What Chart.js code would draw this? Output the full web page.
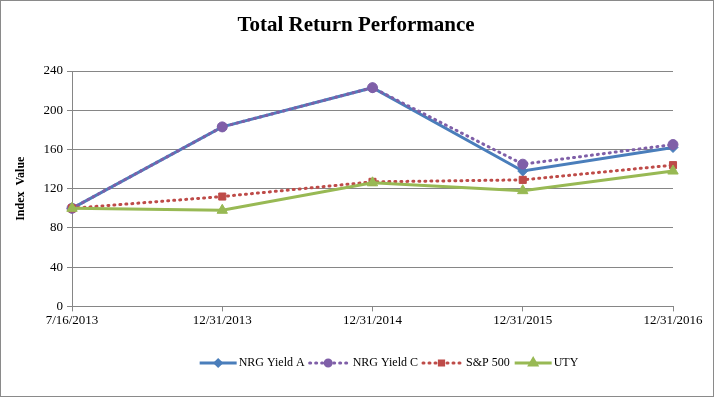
<!DOCTYPE html>
<html>
<head>
<meta charset="utf-8">
<script src="https://cdn.jsdelivr.net/npm/chart.js@4/dist/chart.umd.min.js"></script>
<style>
  html, body { margin: 0; padding: 0; background: #fff; }
  #wrap { width: 712px; height: 395px; border: 1px solid #8a8a8a; }
</style>
</head>
<body>
<div id="wrap"><canvas id="chart" width="712" height="395"></canvas></div>
<script>
// --- Data ---
const categories = ['7/16/2013', '12/31/2013', '12/31/2014', '12/31/2015', '12/31/2016'];
const nrgYieldA = [100, 183, 223, 138, 162];
const nrgYieldC = [100, 183, 223, 145, 165];
const sp500 = [100, 112, 127, 129, 144];
const uty = [100, 98, 126, 118, 138];
const yTicks = [0, 40, 80, 120, 160, 200, 240];
const chartTitle = 'Total Return Performance';

const SERIF = '"Liberation Serif", "Times New Roman", serif';

// title + custom legend drawn by hand so they sit centred on the whole frame
const frameText = {
    id: 'frameText',
    afterDraw(chart) {
        const ctx = chart.ctx;
        ctx.save();
        ctx.fillStyle = '#000';
        ctx.font = 'bold 21px ' + SERIF;
        ctx.textAlign = 'center';
        ctx.textBaseline = 'middle';
        ctx.fillText(chartTitle, 355, 25);
        ctx.restore();

        // legend: line sample with a small marker in the middle
        const sets = chart.data.datasets;
        const lineLen = 37, gapItem = 5, y = 362, center = 388;
        ctx.save();
        ctx.font = '12px ' + SERIF;
        const gapFor = ds => (ds.borderDash.length ? 6 : 2);
        let total = 0;
        sets.forEach(ds => total += lineLen + gapFor(ds) + ctx.measureText(ds.label).width + gapItem);
        total -= gapItem;
        let x = center - total / 2;
        sets.forEach(ds => {
            ctx.strokeStyle = ds.borderColor;
            ctx.lineWidth = 3;
            ctx.lineCap = ds.borderCapStyle;
            ctx.setLineDash(ds.borderDash || []);
            ctx.beginPath();
            ctx.moveTo(x, y);
            ctx.lineTo(x + lineLen, y);
            ctx.stroke();
            ctx.setLineDash([]);
            ctx.fillStyle = ds.pointBackgroundColor;
            ctx.strokeStyle = ds.pointBackgroundColor;
            Chart.helpers.drawPoint(ctx, {
                pointStyle: ds.pointStyle,
                radius: ds.pointRadius - 2,
                borderWidth: 1
            }, x + lineLen / 2, y);
            x += lineLen + gapFor(ds);
            ctx.fillStyle = '#000';
            ctx.textBaseline = 'middle';
            ctx.fillText(ds.label, x, y);
            x += ctx.measureText(ds.label).width + gapItem;
        });
        ctx.restore();
    }
};

function series(label, data, color, style, dash, radius, order) {
    return {
        label, data, order,
        borderColor: color,
        backgroundColor: color,
        pointBackgroundColor: color,
        pointBorderColor: color,
        pointStyle: style,
        pointRadius: radius,
        pointBorderWidth: 1,
        borderWidth: 3,
        borderDash: dash,
        borderCapStyle: dash.length ? 'round' : 'butt',
        tension: 0,
        fill: false
    };
}

new Chart(document.getElementById('chart').getContext('2d'), {
    type: 'line',
    data: {
        labels: categories,
        datasets: [
            series('NRG Yield A', nrgYieldA, '#4a7ebb', 'rectRot', [], 5, 4),
            series('NRG Yield C', nrgYieldC, '#7f5fa8', 'circle', [1, 5], 5, 3),
            series('S&P 500', sp500, '#be4b48', 'rect', [1, 5], 5, 2),
            series('UTY', uty, '#98b954', 'triangle', [], 6, 1)
        ]
    },
    plugins: [frameText],
    options: {
        responsive: false,
        animation: false,
        layout: { padding: { left: 13, right: 40, top: 70, bottom: 67 } },
        plugins: {
            legend: { display: false },
            tooltip: { enabled: false },
            title: { display: false }
        },
        scales: {
            x: {
                offset: false,
                grid: { display: true, drawOnChartArea: false, drawTicks: true, tickLength: 5, color: '#868686' },
                border: { display: true, color: '#868686' },
                ticks: { color: '#000', font: { family: SERIF, size: 13 }, maxRotation: 0, padding: 1 }
            },
            y: {
                min: 0, max: 240,
                afterBuildTicks(scale) { scale.ticks = yTicks.map(v => ({ value: v })); },
                afterFit(scale) { scale.width = 58; },
                grid: { color: '#868686', tickLength: 5 },
                border: { display: true, color: '#868686' },
                ticks: { color: '#000', font: { family: SERIF, size: 13 }, padding: 4 },
                title: {
                    display: true,
                    text: 'Index  Value',
                    color: '#000',
                    font: { family: SERIF, size: 12, weight: 'bold' },
                    padding: 0
                }
            }
        }
    }
});
</script>
</body>
</html>
